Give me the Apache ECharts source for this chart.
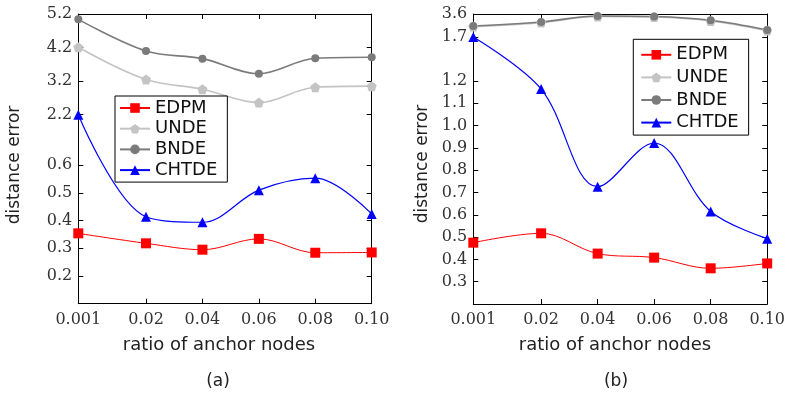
<!DOCTYPE html>
<html>
<head>
<meta charset="utf-8">
<script src="https://cdn.jsdelivr.net/npm/echarts@6/dist/echarts.min.js"></script>
<style>
html,body{margin:0;padding:0;background:#fff;}
#c{width:788px;height:395px;}
</style>
</head>
<body>
<div id="c"></div>
<script>
// ---- data ----
const xLabels = ['0.001', '0.02', '0.04', '0.06', '0.08', '0.10'];
const xValues = [0.001, 0.02, 0.04, 0.06, 0.08, 0.10];
const seriesNames = ['EDPM', 'UNDE', 'BNDE', 'CHTDE'];

// panel (a)
const edpmA = [0.354, 0.318, 0.295, 0.334, 0.284, 0.285];
const undeA = [4.21, 3.25, 2.96, 2.56, 3.02, 3.05];
const bndeA = [5.04, 4.10, 3.87, 3.42, 3.88, 3.91];
const chtdeA = [2.2, 0.414, 0.394, 0.51, 0.553, 0.424];
const yTicksA = [0.2, 0.3, 0.4, 0.5, 0.6, 2.2, 3.2, 4.2, 5.2];

// panel (b)
const edpmB = [0.475, 0.517, 0.426, 0.408, 0.36, 0.382];
const undeB = [2.56, 2.89, 3.40, 3.35, 3.03, 2.23];
const bndeB = [2.61, 2.94, 3.44, 3.39, 3.08, 2.28];
const chtdeB = [1.7, 1.164, 0.726, 0.922, 0.615, 0.493];
const yTicksB = [0.3, 0.4, 0.5, 0.6, 0.7, 0.8, 0.9, 1.0, 1.1, 1.2, 1.7, 3.6];

// ---- broken-axis scales (layout) ----
const xKnots = [[0.001, 0], [0.02, 1.2], [0.1, 5.2]];
const yKnotsA = [[0.1, 0], [0.6, 138.5], [2.2, 189], [5.2, 289.7]];
const yKnotsB = [[0.2, 0], [1.2, 223], [1.7, 267], [3.6, 290]];

function makeScale(k) {
  return function (v) {
    let i = 0;
    while (i < k.length - 2 && v > k[i + 1][0]) i++;
    const a = k[i], b = k[i + 1];
    return a[1] + (v - a[0]) * (b[1] - a[1]) / (b[0] - a[0]);
  };
}
const sx = makeScale(xKnots);
const syA = makeScale(yKnotsA);
const syB = makeScale(yKnotsB);

function labelFor(ticks, scale, fmt) {
  return function (val) {
    let best = 0, d = Infinity;
    ticks.forEach((t, i) => {
      const dd = Math.abs(scale(t) - val);
      if (dd < d) { d = dd; best = i; }
    });
    return fmt(ticks[best], best);
  };
}

const styles = {
  EDPM: { color: '#ff0000', symbol: 'rect', symbolSize: 10, width: 1 },
  UNDE: { color: '#c4c4c4', symbol: 'path://M0,-1 L0.951,-0.309 L0.588,0.809 L-0.588,0.809 L-0.951,-0.309 Z', symbolSize: 10, width: 1.6 },
  BNDE: { color: '#7b7b7b', symbol: 'circle', symbolSize: 8, width: 1.6 },
  CHTDE: { color: '#0000ff', symbol: 'triangle', symbolSize: 10, width: 1.2 }
};

function mkSeries(name, vals, xi, yi, sy) {
  const s = styles[name];
  return {
    type: 'line', name: name, xAxisIndex: xi, yAxisIndex: yi,
    data: xValues.map((x, i) => [sx(x), sy(vals[i])]),
    smooth: 0.35, clip: false,
    symbol: s.symbol, symbolSize: s.symbolSize,
    itemStyle: { color: s.color },
    lineStyle: { color: s.color, width: s.width },
    emphasis: { disabled: true },
    animation: false
  };
}

const serifFont = 'DejaVu Serif';
const sansFont = 'DejaVu Sans';
const xTickVals = xValues.map(sx);

function xAxes(gi) {
  const base = {
    type: 'value', gridIndex: gi, min: 0, max: 5.2,
    splitLine: { show: false },
    axisLine: { show: true, onZero: false, lineStyle: { color: '#000', width: 1 } },
    axisTick: { show: true, inside: true, length: 5, customValues: xTickVals, lineStyle: { color: '#000' } }
  };
  return [
    Object.assign({}, base, {
      position: 'bottom',
      axisLabel: {
        show: true, customValues: xTickVals, margin: 8,
        color: '#333', fontFamily: serifFont, fontSize: 16,
        formatter: labelFor(xValues, sx, (t, i) => xLabels[i])
      }
    }),
    Object.assign({}, base, { position: 'top', axisLabel: { show: false } })
  ];
}

function yAxes(gi, ticks, sy, max) {
  const tv = ticks.map(sy);
  const base = {
    type: 'value', gridIndex: gi, min: 0, max: max,
    splitLine: { show: false },
    axisLine: { show: true, onZero: false, lineStyle: { color: '#000', width: 1 } },
    axisTick: { show: true, inside: true, length: 5, customValues: tv, lineStyle: { color: '#000' } }
  };
  return [
    Object.assign({}, base, {
      position: 'left',
      axisLabel: {
        show: true, customValues: tv, margin: 6,
        color: '#333', fontFamily: serifFont, fontSize: 16,
        formatter: labelFor(ticks, sy, t => t.toFixed(1))
      }
    }),
    Object.assign({}, base, { position: 'right', axisLabel: { show: false } })
  ];
}

function legend(left, top, gap, pad) {
  return {
    data: seriesNames, orient: 'vertical', left: left, top: top,
    itemWidth: 30, itemHeight: 12, itemGap: gap,
    padding: pad,
    backgroundColor: '#fff', borderColor: '#000', borderWidth: 1, borderRadius: 0,
    textStyle: { fontFamily: sansFont, fontSize: 18, color: '#111', lineHeight: 18 },
    selectedMode: false
  };
}

const chart = echarts.init(document.getElementById('c'), null, { renderer: 'canvas' });
chart.setOption({
  animation: false,
  backgroundColor: '#fff',
  grid: [
    { left: 78.3, top: 14, width: 293.4, height: 289.7 },
    { left: 473.3, top: 14, width: 294, height: 290 }
  ],
  xAxis: xAxes(0).concat(xAxes(1)),
  yAxis: yAxes(0, yTicksA, syA, 289.7).concat(yAxes(1, yTicksB, syB, 290)),
  legend: [
    legend(115, 96, 2.7, [3, 10, 3, 4]),
    legend(633.3, 39.3, 4.6, [6.5, 10, 3.5, 7])
  ],
  series: [
    mkSeries('EDPM', edpmA, 0, 0, syA),
    mkSeries('UNDE', undeA, 0, 0, syA),
    mkSeries('BNDE', bndeA, 0, 0, syA),
    mkSeries('CHTDE', chtdeA, 0, 0, syA),
    mkSeries('EDPM', edpmB, 2, 2, syB),
    mkSeries('UNDE', undeB, 2, 2, syB),
    mkSeries('BNDE', bndeB, 2, 2, syB),
    mkSeries('CHTDE', chtdeB, 2, 2, syB)
  ],
  graphic: [
    { type: 'text', x: 219, y: 345, style: { text: 'ratio of anchor nodes', font: '18px "DejaVu Sans"', fill: '#222', align: 'center', verticalAlign: 'middle' } },
    { type: 'text', x: 615, y: 345, style: { text: 'ratio of anchor nodes', font: '18px "DejaVu Sans"', fill: '#222', align: 'center', verticalAlign: 'middle' } },
    { type: 'text', x: 15, y: 165, rotation: Math.PI / 2, style: { text: 'distance error', font: '17px "DejaVu Sans"', fill: '#222', align: 'center', verticalAlign: 'middle' } },
    { type: 'text', x: 423, y: 164, rotation: Math.PI / 2, style: { text: 'distance error', font: '17px "DejaVu Sans"', fill: '#222', align: 'center', verticalAlign: 'middle' } },
    { type: 'text', x: 218, y: 382, style: { text: '(a)', font: '17px "DejaVu Sans"', fill: '#222', align: 'center', verticalAlign: 'middle' } },
    { type: 'text', x: 616, y: 382, style: { text: '(b)', font: '17px "DejaVu Sans"', fill: '#222', align: 'center', verticalAlign: 'middle' } }
  ]
});
</script>
</body>
</html>
